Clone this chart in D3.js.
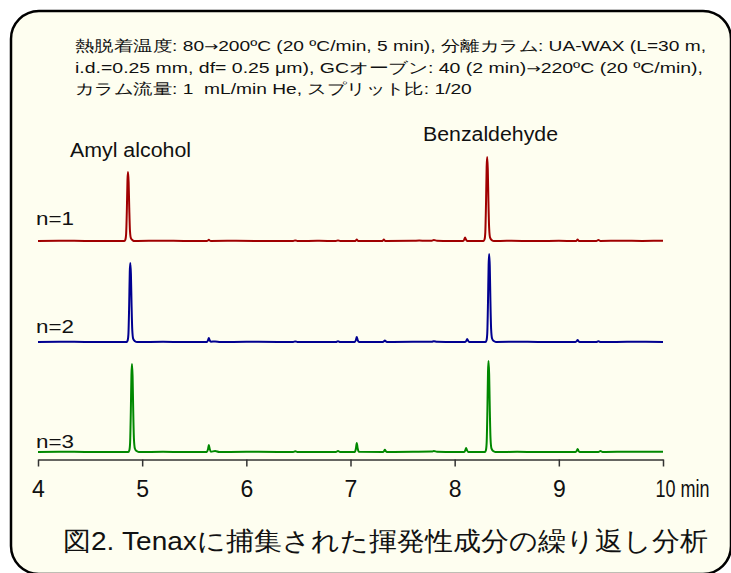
<!DOCTYPE html>
<html><head><meta charset="utf-8">
<script src="https://cdn.jsdelivr.net/npm/d3@7"></script>
<style>
html,body{margin:0;padding:0;background:#ffffff;}
svg{display:block;}
text{font-family:"Liberation Sans",Arial,sans-serif;fill:#111;white-space:pre;}
</style></head>
<body><svg id="chart" width="731" height="573"></svg>
<script>
// ---------------- data ----------------
const headerLines = [
  "熱脱着温度: 80→200ºC (20 ºC/min, 5 min), 分離カラム: UA-WAX (L=30 m,",
  "i.d.=0.25 mm, df= 0.25 μm), GCオーブン: 40 (2 min)→220ºC (20 ºC/min),",
  "カラム流量: 1  mL/min He, スプリット比: 1/20"
];
const caption = "図2. Tenaxに捕集された揮発性成分の繰り返し分析";
const peakNames = ["Amyl alcohol", "Benzaldehyde"];
const runNames = ["n=1", "n=2", "n=3"];
const tickValues = [4, 5, 6, 7, 8, 9, 10];
const timeUnit = "min";
const runOffsets = [211, 110, 0];   // vertical offset of each stacked trace (intensity units)

const run1 = [
  [4.00,0],[4.30,0.2],[4.60,0],[4.829,0],[4.839,1.4],[4.846,6.9],[4.853,31],[4.859,61],[4.864,69],[4.870,59],[4.876,33],[4.883,10],[4.892,2.8],[4.909,0.7],[4.929,0],
  [5.20,0.3],[5.40,0],[5.62,0],[5.632,0.5],[5.64,1.2],[5.648,0.5],[5.66,0],[5.90,0.2],[6.20,0],[6.45,0],[6.47,0.6],[6.49,0],[6.70,0.2],[6.86,0],[6.88,0.6],[6.90,0],
  [7.04,0],[7.052,0.6],[7.06,1.5],[7.068,0.6],[7.08,0],[7.30,0],[7.312,0.6],[7.32,1.5],[7.328,0.6],[7.34,0],[7.60,0.2],[7.66,0.5],[7.72,0.2],[7.78,0.3],[7.80,1],[7.83,0.3],[7.95,0],
  [8.08,0],[8.092,1.4],[8.10,3.5],[8.108,1.6],[8.12,0],
  [8.277,0],[8.287,1.7],[8.294,8.4],[8.301,38],[8.307,74],[8.312,84],[8.318,72],[8.324,40],[8.331,13],[8.340,3.4],[8.357,0.8],[8.377,0],
  [8.50,0.2],[8.80,0],[9.00,0.2],[9.16,0],[9.172,0.6],[9.18,1.5],[9.188,0.6],[9.20,0],[9.36,0],[9.38,1],[9.40,0],[9.60,0.3],[9.80,0.1],[10.00,0.2]
];
const run2 = [
  [4.00,0],[4.30,0.2],[4.60,0],[4.851,0],[4.861,1.6],[4.868,7.9],[4.875,36],[4.881,70],[4.886,79],[4.892,68],[4.898,38],[4.905,12],[4.914,3.2],[4.931,0.8],[4.951,0],
  [5.20,0.2],[5.40,0],[5.62,0],[5.632,1.6],[5.64,4],[5.648,1.8],[5.66,0.3],[5.70,0.6],[5.75,0],[6.00,0.2],[6.30,0],[6.45,0],[6.47,0.6],[6.49,0],[6.86,0],[6.88,0.8],[6.90,0],
  [7.04,0],[7.052,2],[7.06,5],[7.068,2.2],[7.08,0],[7.31,0],[7.322,0.7],[7.33,1.6],[7.338,0.7],[7.35,0],[7.60,0.2],[7.78,0.3],[7.80,0.8],[7.83,0.2],[8.00,0],
  [8.10,0],[8.112,1.2],[8.12,3],[8.128,1.4],[8.14,0],
  [8.296,0],[8.306,1.8],[8.313,8.8],[8.320,40],[8.326,77],[8.331,88],[8.337,76],[8.343,42],[8.350,13],[8.359,3.5],[8.376,0.9],[8.396,0],
  [8.60,0.2],[9.00,0],[9.16,0],[9.172,0.8],[9.18,2],[9.188,0.9],[9.20,0],[9.36,0],[9.38,0.8],[9.40,0],[9.70,0.2],[10.00,0.1]
];
const run3 = [
  [4.00,0],[4.30,0.2],[4.60,0],[4.867,0],[4.877,1.8],[4.884,8.8],[4.891,40],[4.897,77],[4.902,88],[4.908,76],[4.914,42],[4.921,13],[4.930,3.5],[4.947,0.9],[4.967,0],
  [5.20,0.2],[5.40,0],[5.62,0],[5.632,2.8],[5.64,7],[5.648,3.2],[5.66,0.3],[5.70,1],[5.74,0],[6.00,0.2],[6.30,0],[6.45,0],[6.47,0.7],[6.49,0],[6.86,0],[6.88,1],[6.90,0],
  [7.04,0],[7.052,3.5],[7.06,9],[7.068,4],[7.08,0.2],[7.31,0],[7.322,0.9],[7.33,2.2],[7.338,1],[7.35,0],[7.60,0.2],[7.78,0.4],[7.80,1],[7.83,0.2],[8.00,0],
  [8.09,0],[8.102,1.6],[8.11,4],[8.118,1.8],[8.13,0],
  [8.290,0],[8.300,1.8],[8.307,9.1],[8.314,41],[8.320,80],[8.325,91],[8.331,78],[8.337,44],[8.344,14],[8.353,3.6],[8.370,0.9],[8.390,0],
  [8.60,0.2],[8.80,0],[9.16,0],[9.172,1.2],[9.18,3],[9.188,1.3],[9.20,0],[9.38,0],[9.40,1],[9.42,0],[9.70,0.3],[10.00,0.2]
];
const runs = [run1, run2, run3];
const runColors = ["#a00000", "#000090", "#008800"];

// ---------------- drawing ----------------
const svg = d3.select("#chart");
svg.append("rect").attr("x", 11).attr("y", 11).attr("width", 720).attr("height", 563)
  .attr("rx", 28).attr("ry", 28).attr("fill", "#fefef0").attr("stroke", "#000").attr("stroke-width", 2.5);

const x = d3.scaleLinear().domain([4, 10]).range([38, 663]);
const y = d3.scaleLinear().domain([0, 320]).range([452, 132]);

// header: arrows in a narrower font; lines 1-2 fitted to their widths, line 3 uses line 1's squeeze
const hdr = svg.append("g");
const hdrTexts = headerLines.map((t, i) => {
  const tx = hdr.append("text").attr("x", 75).attr("y", 51 + i * 21.5).attr("font-size", 14.8);
  t.split(/(→)/).forEach(part => {
    if (!part) return;
    const ts = tx.append("tspan").text(part);
    if (part === "→") ts.attr("font-family", "'DejaVu Sans',sans-serif").attr("font-size", 13);
  });
  return tx;
});
const hdrWidths = [631, 628];
const w0 = hdrTexts[0].node().getComputedTextLength();
const squeeze = hdrWidths[0] / w0;
hdrTexts.forEach((tx, i) => {
  const w = hdrWidths[i] !== undefined ? hdrWidths[i] : tx.node().getComputedTextLength() * squeeze;
  tx.attr("textLength", w).attr("lengthAdjust", "spacingAndGlyphs");
});

// traces
const line = d3.line().x(d => x(d[0])).curve(d3.curveMonotoneX);
runs.forEach((r, i) => {
  svg.append("path").datum(r)
    .attr("d", line.y(d => y(d[1] + runOffsets[i])))
    .attr("fill", "none").attr("stroke", runColors[i]).attr("stroke-width", 2)
    .attr("stroke-linejoin", "round");
});

// run labels
const runLabelY = [225, 333, 448];
runNames.forEach((t, i) => {
  svg.append("text").attr("x", 36).attr("y", runLabelY[i]).attr("font-size", 19)
    .attr("textLength", 38).attr("lengthAdjust", "spacingAndGlyphs").text(t);
});

// peak labels
svg.append("text").attr("x", 70).attr("y", 157).attr("font-size", 19.5)
  .attr("textLength", 121).attr("lengthAdjust", "spacingAndGlyphs").text(peakNames[0]);
svg.append("text").attr("x", 423).attr("y", 141).attr("font-size", 19.5)
  .attr("textLength", 135).attr("lengthAdjust", "spacingAndGlyphs").text(peakNames[1]);

// axis
const axis = d3.axisBottom(x).tickValues(tickValues).tickSize(7).tickSizeOuter(0)
  .tickFormat(d => d === 10 ? `10 ${timeUnit}` : d);
const ag = svg.append("g").attr("transform", "translate(0,459.5)").call(axis);
ag.select(".domain").attr("stroke", "#333").attr("stroke-width", 1.5);
ag.selectAll(".tick line").attr("stroke", "#333").attr("stroke-width", 1.5);
ag.selectAll(".tick text").attr("font-size", 23).attr("fill", "#111")
  .attr("font-family", "'Liberation Sans',Arial,sans-serif").attr("dy", "0").attr("y", 37);
ag.selectAll(".tick text").filter(d => d === 10)
  .attr("text-anchor", "start").attr("x", -8).attr("textLength", 54).attr("lengthAdjust", "spacingAndGlyphs");

// caption
svg.append("text").attr("x", 63).attr("y", 550).attr("font-size", 26)
  .attr("textLength", 645).attr("lengthAdjust", "spacingAndGlyphs").text(caption);
</script></body></html>
